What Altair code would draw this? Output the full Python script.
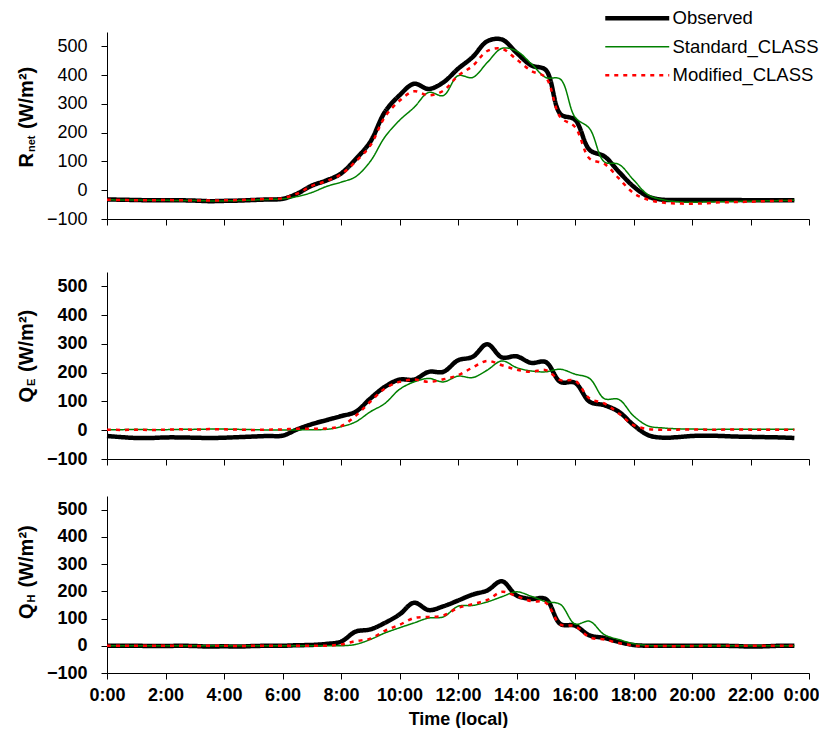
import altair as alt
import pandas as pd

# ---------------- data ----------------
HOURS = [0.0, 0.5, 1.0, 1.5, 2.0, 2.5, 3.0, 3.5, 4.0, 4.5, 5.0, 5.5,
         6.0, 6.5, 7.0, 7.5, 8.0, 8.5, 9.0, 9.5, 10.0, 10.5, 11.0, 11.5,
         12.0, 12.5, 13.0, 13.5, 14.0, 14.5, 15.0, 15.5, 16.0, 16.5, 17.0, 17.5,
         18.0, 18.5, 19.0, 19.5, 20.0, 20.5, 21.0, 21.5, 22.0, 22.5, 23.0, 23.5]

SERIES = ["Observed", "Standard_CLASS", "Modified_CLASS"]

# Net radiation
R_OBS = [-32, -33, -34, -35, -35, -35, -36, -38, -37, -36, -34, -32,
         -30, -12, 16, 34, 58, 108, 168, 272, 330, 370, 352, 375,
         422, 463, 518, 524, 478, 434, 418, 265, 245, 140, 118, 64,
         13, -22, -33, -34, -34, -34, -34, -34, -35, -35, -35, -35]
R_STD = [-33, -34, -34, -35, -35, -36, -36, -37, -37, -36, -34, -32,
         -30, -22, -8, 13, 28, 47, 100, 185, 243, 288, 340, 329,
         398, 392, 444, 493, 484, 440, 392, 386, 254, 214, 99, 90,
         36, -16, -33, -40, -42, -41, -40, -39, -38, -37, -36, -35]
R_MOD = [-33, -34, -35, -35, -34, -35, -36, -36, -35, -34, -32, -30,
         -28, -12, 15, 32, 55, 100, 155, 255, 311, 344, 330, 346,
         398, 432, 484, 492, 455, 415, 392, 254, 220, 110, 92, 41,
         -10, -33, -43, -46, -47, -45, -42, -41, -40, -38, -37, -36]

# Latent heat flux
QE_OBS = [-20, -24, -27, -27, -25, -25, -26, -27, -26, -24, -22, -20,
          -19, 3, 21, 35, 49, 64, 110, 151, 176, 176, 203, 203,
          243, 255, 299, 253, 257, 234, 237, 168, 165, 99, 87, 64,
          18, -17, -26, -24, -20, -19, -20, -22, -23, -24, -25, -27]
QE_STD = [2, 2, 3, 2, 2, 3, 3, 4, 4, 3, 2, 1,
          1, 1, 2, 3, 12, 29, 64, 93, 142, 168, 180, 168,
          188, 183, 209, 241, 218, 206, 203, 212, 195, 180, 110, 107,
          50, 15, 8, 5, 4, 3, 3, 3, 3, 3, 3, 3]
QE_MOD = [2, 1, 2, 1, 2, 3, 2, 4, 3, 2, 1, 2,
          3, 5, 5, 6, 14, 50, 99, 145, 168, 176, 168, 177,
          191, 218, 241, 226, 211, 203, 209, 174, 172, 110, 93, 58,
          18, 4, 2, 2, 3, 2, 2, 3, 2, 2, 2, 2]

# Sensible heat flux
QH_OBS = [0, 0, 0, -1, -1, 0, -1, -3, -2, -3, -1, 0,
          0, 2, 3, 7, 15, 52, 60, 84, 115, 158, 131, 145,
          166, 188, 203, 237, 185, 172, 172, 80, 74, 38, 29, 14,
          3, 0, 0, 0, 0, 0, 0, -1, -3, -2, 0, 0]
QH_STD = [0, 0, 0, 0, 0, 0, 0, 0, 0, 0, 0, 0,
          0, 0, 0, 0, 0, 5, 23, 47, 66, 84, 102, 106,
          145, 148, 161, 180, 198, 182, 162, 152, 80, 90, 41, 23,
          8, 1, 0, 0, 0, 0, 0, 0, 0, 0, 0, 0]
QH_MOD = [0, 0, 0, 0, 0, 0, -1, 0, 0, -1, 0, 0,
          0, 0, 0, 0, 5, 17, 26, 55, 77, 102, 106, 111,
          139, 153, 168, 198, 182, 164, 158, 78, 72, 31, 23, 10,
          1, -2, -1, -2, -1, 0, 0, 0, 0, 0, 0, 0]

X_TICKS = [0, 2, 4, 6, 8, 10, 12, 14, 16, 18, 20, 22, 24]
Y_TICKS = [-100, 0, 100, 200, 300, 400, 500]

TITLE_MAIN = ["R", "Q", "Q"]
TITLE_SUB = ["net", "E", "H"]
TITLE_UNIT = "(W/m²)"
X_TITLE = "Time (local)"

# ---------------- styles / layout ----------------
FONT = "Liberation Sans"
COLORS = ["#000000", "#008000", "#ff0000"]
DASHES = [[1, 0], [1, 0], [4, 5]]
WIDTHS = [4.5, 1.5, 2.5]

PLOT_W = 702
HEIGHTS = [187, 187, 177]
TITLE_ANCHOR = [121, 115, 107.5]
SUB_W = [17, 8, 9]
SPACE_W = 6
TITLE_X = -74


def make_panel(idx, obs, std, mod, height, show_legend, xmode, label_weight):
    n = len(HOURS)
    df = pd.DataFrame({
        "hour": HOURS * 3,
        "value": obs + std + mod,
        "series": [SERIES[0]] * n + [SERIES[1]] * n + [SERIES[2]] * n,
    })

    if show_legend:
        legend = alt.Legend(
            title=None, orient="none", legendX=521, legendY=-23,
            symbolType="M-4.92,0H4.92", symbolSize=169,
            labelFont=FONT, labelFontSize=18.5, labelColor="black",
            labelOffset=26, rowPadding=9.5, padding=0, labelLimit=300,
        )
    else:
        legend = None

    if xmode == "top":
        x_axis = alt.Axis(values=X_TICKS, labelExpr="(datum.value % 24) + ':00'",
                          labelOpacity=0, labelPadding=1, title=None, labelOverlap=False,
                          labelFlush=True, labelFontSize=18, labelFontWeight="bold")
    elif xmode == "mid":
        x_axis = alt.Axis(values=X_TICKS, labels=False, title=None)
    else:
        x_axis = alt.Axis(values=X_TICKS, labelExpr="(datum.value % 24) + ':00'",
                          labelPadding=7, title=X_TITLE, titlePadding=6, labelOverlap=False,
                          labelFlush=False,
                          labelAlign={"condition": {"test": "datum.value >= 24", "value": "right"},
                                      "value": "center"},
                          labelOffset={"condition": {"test": "datum.value >= 24", "value": 10},
                                       "value": 0},
                          labelFontSize=18, labelFontWeight="bold",
                          titleFontSize=18, titleFontWeight="bold")

    y_axis = alt.Axis(values=Y_TICKS, title=None, labelPadding=14,
                      labelFontSize=18, labelFontWeight=label_weight)

    enc = dict(
        x=alt.X("hour:Q", scale=alt.Scale(domain=[0, 24], nice=False), axis=x_axis),
        y=alt.Y("value:Q", scale=alt.Scale(domain=[-100, 550], nice=False), axis=y_axis),
        color=alt.Color("series:N", scale=alt.Scale(domain=SERIES, range=COLORS), legend=legend),
        strokeDash=alt.StrokeDash("series:N", scale=alt.Scale(domain=SERIES, range=DASHES), legend=legend),
        strokeWidth=alt.StrokeWidth("series:N", scale=alt.Scale(type="ordinal", domain=SERIES, range=WIDTHS),
                                    legend=legend),
    )

    layers = []
    for s in SERIES:
        layers.append(
            alt.Chart(df)
            .transform_filter(alt.datum.series == s)
            .mark_line(interpolate="catmull-rom", strokeCap="butt", strokeJoin="round")
            .encode(**enc)
        )

    tdf = pd.DataFrame({"main": [TITLE_MAIN[idx]], "sub": [TITLE_SUB[idx]], "unit": [TITLE_UNIT]})
    a = TITLE_ANCHOR[idx]
    t_main = alt.Chart(tdf).mark_text(
        angle=270, align="right", baseline="alphabetic", font=FONT,
        fontSize=20, fontWeight="bold", color="black"
    ).encode(text="main:N", x=alt.value(TITLE_X), y=alt.value(a))
    t_sub = alt.Chart(tdf).mark_text(
        angle=270, align="left", baseline="alphabetic", font=FONT,
        fontSize=11, fontWeight="bold", color="black"
    ).encode(text="sub:N", x=alt.value(TITLE_X + 2), y=alt.value(a - 1))
    t_unit = alt.Chart(tdf).mark_text(
        angle=270, align="left", baseline="alphabetic", font=FONT,
        fontSize=20, fontWeight="bold", color="black"
    ).encode(text="unit:N", x=alt.value(TITLE_X), y=alt.value(a - 1 - SUB_W[idx] - SPACE_W))

    return alt.layer(*layers, t_main, t_sub, t_unit).properties(width=PLOT_W, height=height)


p1 = make_panel(0, R_OBS, R_STD, R_MOD, HEIGHTS[0], True, "top", "normal")
p2 = make_panel(1, QE_OBS, QE_STD, QE_MOD, HEIGHTS[1], False, "mid", "bold")
p3 = make_panel(2, QH_OBS, QH_STD, QH_MOD, HEIGHTS[2], False, "bottom", "bold")

chart = (
    alt.vconcat(p1, p2, p3, spacing=28)
    .resolve_legend(color="independent", strokeDash="independent", strokeWidth="independent")
    .properties(padding={"left": 9, "top": 1, "right": 0, "bottom": 0})
    .configure_view(stroke=None)
    .configure_axis(
        grid=False, domainColor="black", tickColor="black", labelColor="black",
        titleColor="black", labelFont=FONT, titleFont=FONT, tickSize=6,
        domainWidth=1, tickWidth=1,
    )
)

chart.save("out.html", embed_options={"renderer": "svg", "actions": False})
